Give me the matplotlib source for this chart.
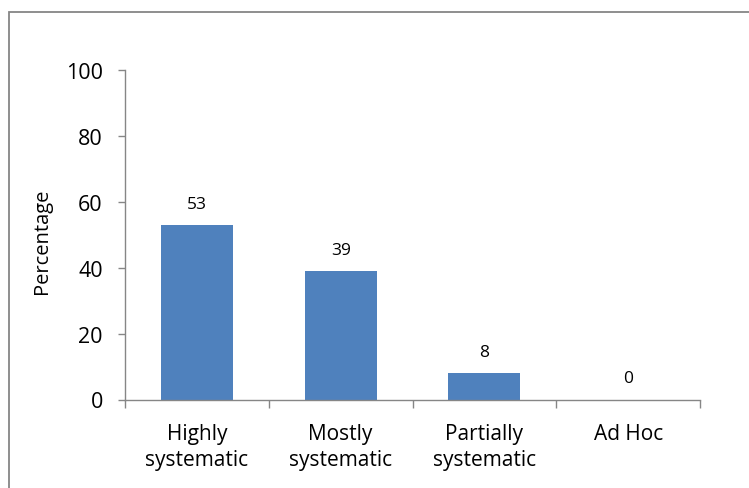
import matplotlib.pyplot as plt
from matplotlib.patches import Rectangle
import numpy as np

categories = ["Highly\nsystematic", "Mostly\nsystematic", "Partially\nsystematic", "Ad Hoc"]
values = [53, 39, 8, 0]
yticks = [0, 20, 40, 60, 80, 100]

plt.rcParams['font.family'] = ['Open Sans', 'DejaVu Sans']

fig = plt.figure(figsize=(7.49, 4.89), dpi=100)
ax = fig.add_axes([125 / 749, 1 - 400.5 / 489, 575 / 749, 329.5 / 489])

x = np.arange(len(categories))
ax.bar(x, values, width=0.5, color="#4F81BD")
for xi, v in zip(x, values):
    ax.text(xi, v + 4, str(v), ha="center", va="bottom", fontsize=12.5)

ax.set_xlim(-0.5, len(categories) - 0.5)
ax.set_ylim(0, 100)
ax.set_yticks(yticks)
ax.set_xticks(x)
ax.set_xticklabels(categories, fontsize=15, linespacing=1.3)
ax.set_xticks(np.arange(len(categories) + 1) - 0.5, minor=True)
ax.tick_params(axis="x", which="major", length=0, pad=17)
ax.tick_params(axis="x", which="minor", length=6, color="#868686", width=1)
ax.tick_params(axis="y", length=5, color="#868686", width=1, labelsize=15.5, pad=11)
ax.set_ylabel("Percentage", fontsize=14.5)
ax.yaxis.set_label_coords(-0.127, 0.484)

for s in ["top", "right"]:
    ax.spines[s].set_visible(False)
for s in ["left", "bottom"]:
    ax.spines[s].set_color("#868686")
    ax.spines[s].set_linewidth(1)

# chart area border
fig.patches.append(Rectangle((9 / 749, -0.1), 1.2, 1 - 13 / 489 + 0.1,
                             transform=fig.transFigure, fill=False,
                             edgecolor="#868686", linewidth=1.3))

fig.savefig("out.png", dpi=100)
